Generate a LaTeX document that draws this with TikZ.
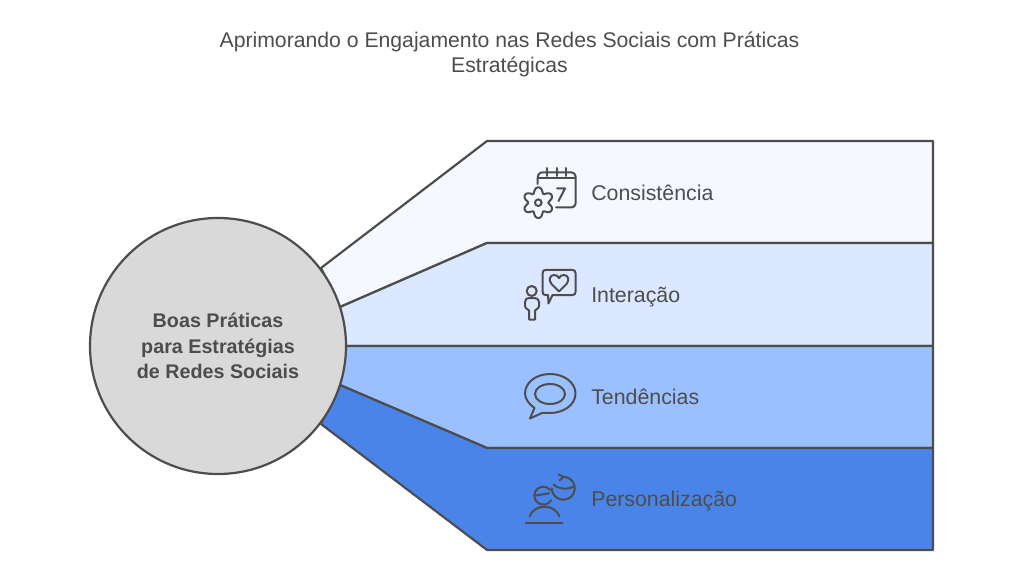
\documentclass[tikz,border=0pt]{standalone}
\usepackage{fontspec}
\setmainfont{Liberation Sans}
\definecolor{ink}{HTML}{4D4D4D}
\definecolor{rowa}{HTML}{F5F9FF}
\definecolor{rowb}{HTML}{DCE8FF}
\definecolor{rowc}{HTML}{9BC0FF}
\definecolor{rowd}{HTML}{4A84E8}
\definecolor{hub}{HTML}{D9D9D9}
\tikzset{
  band/.style={draw=ink,line width=1.65pt,line join=round},
  icon/.style={draw=ink,line width=1.5pt,line cap=round,line join=round},
  label/.style={text=ink,anchor=base west,inner sep=0pt,font=\fontsize{16}{18}\selectfont},
  titletext/.style={text=ink,align=center,inner sep=0pt,font=\fontsize{15.9}{18.75}\selectfont},
  hubtext/.style={text=ink,align=center,inner sep=0pt,font=\fontsize{14.8}{18.9}\selectfont\bfseries}
}
\begin{document}
\begin{tikzpicture}[x=0.75pt,y=-0.75pt]
\useasboundingbox[fill=white] (0,0) rectangle (1024,577);
\node[titletext] (title) at (509.5,54.5) {Aprimorando o Engajamento nas Redes Sociais com Práticas\\Estratégicas};
% bands
\draw[band,fill=rowa] (321,268) -- (487,141) -- (933,141) -- (933,243) -- (487,243) -- (340,307) -- cycle;
\draw[band,fill=rowb] (340,307) -- (487,243) -- (933,243) -- (933,346) -- (346,346) -- cycle;
\draw[band,fill=rowc] (346,346) -- (933,346) -- (933,448) -- (487,448) -- (340,385) -- cycle;
\draw[band,fill=rowd] (340,385) -- (487,448) -- (933,448) -- (933,550) -- (487,550) -- (321,424) -- cycle;
\node[circle,draw=ink,fill=hub,line width=1.65pt,minimum size=192pt,inner sep=0pt] (hubnode) at (218,346) {};
\node[hubtext] (hubtitle) at (218,346) {Boas Práticas\\para Estratégias\\de Redes Sociais};
\node[label] (l1) at (591,200.5) {Consistência};
\node[label] (l2) at (591,302.5) {Interação};
\node[label] (l3) at (591,404.5) {Tendências};
\node[label] (l4) at (591,506.5) {Personalização};
% calendar icon
\draw[icon] (537.7,184) -- (537.7,178.3) .. controls (537.7,174.5) and (539.5,172.3) .. (543,172.3) -- (570.5,172.3) .. controls (574,172.3) and (575.7,174.5) .. (575.7,178) -- (575.7,202) .. controls (575.7,205.5) and (574,207.5) .. (570.5,207.5) -- (556,207.5);
\draw[icon] (537.7,178.5) -- (575.7,178.5);
\draw[icon] (547.3,168) -- (547.3,176) (556.7,168) -- (556.7,176) (566,168) -- (566,176);
\draw[icon] (557,188.5) -- (565,188.5) -- (558.5,201);
\draw[icon] plot[domain=0:360,samples=181,smooth cycle,variable=\t] ({538.3+(13+2.6*cos(6*\t)-0.3*cos(12*\t))*cos(\t+90)},{202.7+(13+2.6*cos(6*\t)-0.3*cos(12*\t))*sin(\t+90)});
\draw[icon] (538.3,202.7) circle[radius=3.3];
% person + speech icon
\draw[icon] (531.7,291) circle[radius=5];
\draw[icon] (529,319.5) -- (529,310.5) -- (527,309) .. controls (525.5,308) and (525,307) .. (525,305.5) -- (525,302) .. controls (525,299) and (527,298) .. (529,298) -- (534.5,298) .. controls (536.5,298) and (539,299) .. (539,302) -- (539,305.5) .. controls (539,307) and (538.5,308) .. (537,309) -- (535,310.5) -- (535,319.5) -- cycle;
\draw[icon] (552.5,295) -- (548.5,303.5) -- (548,295) -- (545.5,295) .. controls (543.5,295) and (542.7,294) .. (542.7,292) -- (542.7,273) .. controls (542.7,271) and (543.5,270) .. (545.5,270) -- (572.5,270) .. controls (574.5,270) and (575.5,271) .. (575.5,273) -- (575.5,292) .. controls (575.5,294) and (574.5,295) .. (572.5,295) -- cycle;
\draw[icon] (559,291.5) -- (551.5,284) .. controls (548,280) and (550,275) .. (554,275) .. controls (556.5,275) and (558,276) .. (559,278) .. controls (560,276) and (561.5,275) .. (564,275) .. controls (568,275) and (570,280) .. (566.5,284) -- cycle;
% speech ellipse icon
\draw[icon] (534.5,408) .. controls (529,404) and (525,399) .. (525,393.5) .. controls (525,382.5) and (536,374) .. (550,374) .. controls (564,374) and (575.5,382.5) .. (575.5,393.5) .. controls (575.5,404.5) and (564,413) .. (550,413) .. controls (545,413) and (543,412.5) .. (542,413) -- (530,418.5) -- cycle;
\draw[icon] (550,394) ellipse[x radius=15,y radius=10];
% personalisation icon
\draw[icon] (525.7,522.7) -- (562.7,522.7);
\draw[icon] (529.5,516.5) .. controls (532,510) and (538,506.7) .. (544.5,506.7) .. controls (551,506.7) and (557,510) .. (559.5,516.5);
\draw[icon] (550.2,489.9) arc[start angle=-40,end angle=-330,radius=9];
\draw[icon] (534.5,495.7) -- (549,493.3);
\draw[icon] (551.8,488.3) arc[start angle=180,end angle=-95,radius=11.5];
\draw[icon] (558.5,474.5) -- (563.5,477) -- (559.5,480.5);
\draw[icon] (553.5,484.5) .. controls (558,489) and (568,490) .. (573.5,486.5);
\end{tikzpicture}
\end{document}
